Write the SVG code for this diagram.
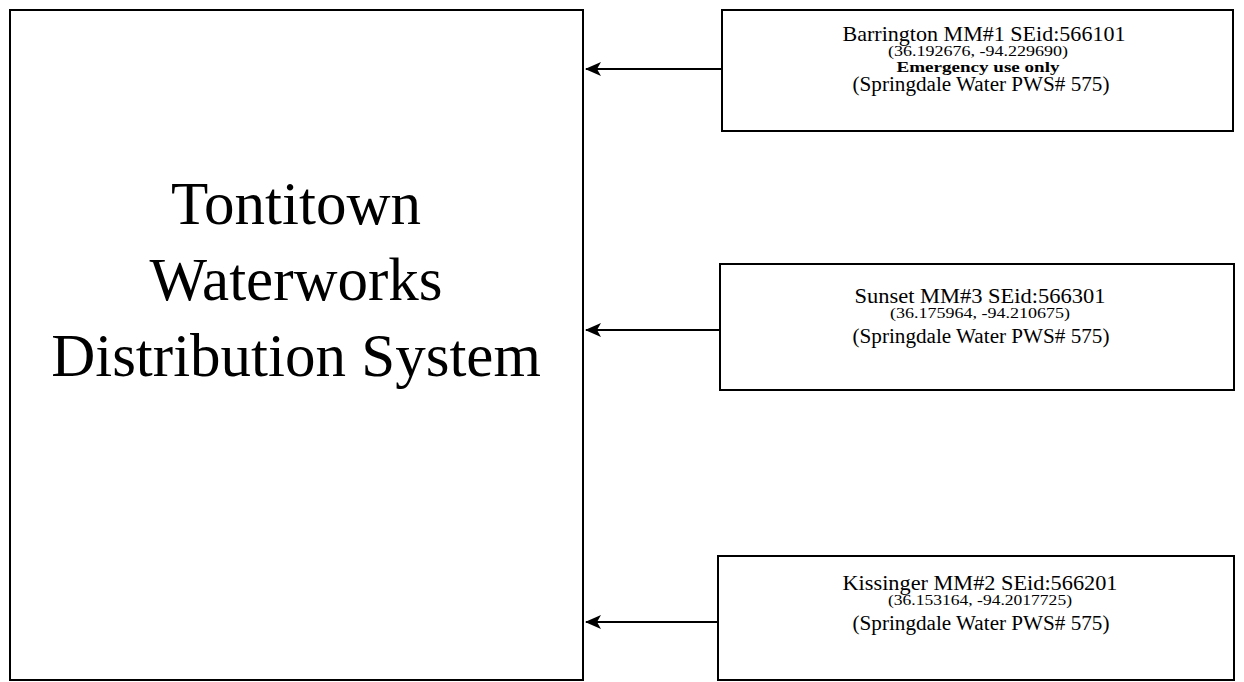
<svg xmlns="http://www.w3.org/2000/svg" width="1244" height="682" viewBox="0 0 1244 682">
<style>
.box{fill:#fff;stroke:#000;stroke-width:2}
.t{font-family:"Liberation Serif","Times New Roman",serif;fill:#000;text-anchor:middle}
.big{font-size:61px}
.ttl{font-size:21px}
.sm{font-size:14px}
.em{font-size:15px;font-weight:bold}
.src{font-size:20px}
.conn{stroke:#000;stroke-width:2;fill:none}
</style>
<defs>
<marker id="ah" markerWidth="16" markerHeight="14" refX="15" refY="7" orient="auto" markerUnits="userSpaceOnUse">
<path d="M0,0 L16,7 L0,14 L4,7 Z" fill="#000"/>
</marker>
</defs>
<rect width="1244" height="682" fill="#fff"/>
<g id="tontitown">
<rect class="box" x="10" y="10" width="573" height="670"/>
<text class="t big" x="296" y="224">Tontitown</text>
<text class="t big" x="296" y="300">Waterworks</text>
<text class="t big" x="296" y="376">Distribution System</text>
</g>
<g id="barrington">
<rect class="box" x="722" y="10" width="511" height="121"/>
<text class="t ttl" x="984" y="41" textLength="283" lengthAdjust="spacingAndGlyphs">Barrington MM#1 SEid:566101</text>
<text class="t sm" x="978" y="56" textLength="180" lengthAdjust="spacingAndGlyphs">(36.192676, -94.229690)</text>
<text class="t em" x="978" y="72" textLength="163" lengthAdjust="spacingAndGlyphs">Emergency use only</text>
<text class="t src" x="981" y="91" textLength="257" lengthAdjust="spacingAndGlyphs">(Springdale Water PWS# 575)</text>
</g>
<g id="sunset">
<rect class="box" x="720" y="264" width="514" height="126"/>
<text class="t ttl" x="980" y="303" textLength="251" lengthAdjust="spacingAndGlyphs">Sunset MM#3 SEid:566301</text>
<text class="t sm" x="980" y="318" textLength="180" lengthAdjust="spacingAndGlyphs">(36.175964, -94.210675)</text>
<text class="t src" x="981" y="343" textLength="257" lengthAdjust="spacingAndGlyphs">(Springdale Water PWS# 575)</text>
</g>
<g id="kissinger">
<rect class="box" x="718" y="556" width="516" height="124"/>
<text class="t ttl" x="980" y="590" textLength="275" lengthAdjust="spacingAndGlyphs">Kissinger MM#2 SEid:566201</text>
<text class="t sm" x="980" y="605" textLength="184" lengthAdjust="spacingAndGlyphs">(36.153164, -94.2017725)</text>
<text class="t src" x="981" y="630" textLength="257" lengthAdjust="spacingAndGlyphs">(Springdale Water PWS# 575)</text>
</g>
<g id="connectors">
<line class="conn" x1="722" y1="69" x2="586" y2="69" marker-end="url(#ah)"/>
<line class="conn" x1="720" y1="330" x2="586" y2="330" marker-end="url(#ah)"/>
<line class="conn" x1="718" y1="622" x2="586" y2="622" marker-end="url(#ah)"/>
</g>
</svg>
